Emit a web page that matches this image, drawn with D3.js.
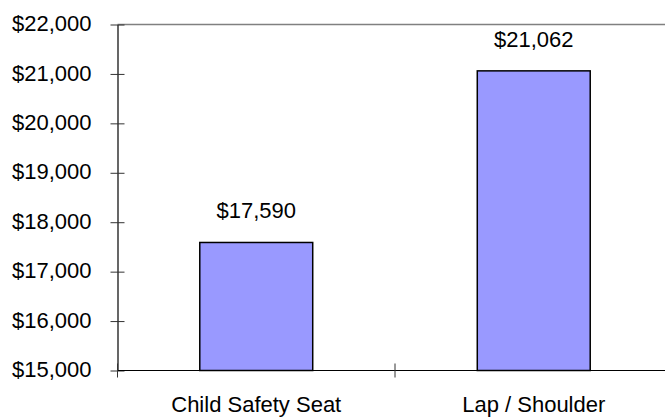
<!DOCTYPE html>
<html>
<head>
<meta charset="utf-8">
<script src="https://cdn.jsdelivr.net/npm/d3@7"></script>
<style>
  html, body { margin: 0; padding: 0; background: #ffffff; }
  svg { display: block; }
  text { font-family: "Liberation Sans", Arial, sans-serif; fill: #000; }
</style>
</head>
<body>
<div id="chart"></div>
<script>
const categories = ["Child Safety Seat", "Lap / Shoulder"];
const values = [17590, 21062];
const yTicks = [15000, 16000, 17000, 18000, 19000, 20000, 21000, 22000];

(function () {
const W = 665, H = 417;
const pLeft = 117.5, pRight = 672.5, pTop = 24.5, pBottom = 370.5;

const svg = d3.select("#chart").append("svg").attr("width", W).attr("height", H);

const x = d3.scaleBand().domain(categories).range([pLeft, pRight])
  .paddingInner(0.593).paddingOuter(0.2965);
const y = d3.scaleLinear().domain([15000, 22000]).range([pBottom, pTop]);
const fmt = v => "$" + d3.format(",")(v);

// top border (gray)
svg.append("line").attr("x1", pLeft).attr("x2", pRight)
  .attr("y1", y(22000)).attr("y2", y(22000))
  .attr("stroke", "#808080").attr("stroke-width", 1.5);

// bars
svg.selectAll("rect.bar").data(values).enter().append("rect")
  .attr("class", "bar")
  .attr("x", (d, i) => x(categories[i]))
  .attr("width", x.bandwidth())
  .attr("y", d => y(d))
  .attr("height", d => y(15000) - y(d))
  .attr("fill", "#9999ff")
  .attr("stroke", "#000").attr("stroke-width", 1.5);

// value labels
svg.selectAll("text.val").data(values).enter().append("text")
  .attr("class", "val")
  .attr("x", (d, i) => x(categories[i]) + x.bandwidth() / 2)
  .attr("y", d => y(d) - 24)
  .attr("text-anchor", "middle")
  .attr("font-size", "22px")
  .text(d => fmt(d));

// y axis
const yAxis = d3.axisLeft(y).tickValues(yTicks).tickFormat(fmt)
  .tickSizeInner(7).tickSizeOuter(0).tickPadding(19);
const gy = svg.append("g").attr("transform", `translate(${pLeft},0)`).call(yAxis);
gy.select(".domain").attr("stroke", "#000").attr("stroke-width", 1.2);
gy.selectAll(".tick line").attr("x2", 7).attr("x1", -7).attr("stroke", "#333");
gy.selectAll(".tick text").attr("font-size", "22px")
  .attr("font-family", "Liberation Sans, Arial, sans-serif")
  .attr("fill", "#000").attr("dy", "0.28em");

// x axis
svg.append("line").attr("x1", pLeft).attr("x2", pRight)
  .attr("y1", pBottom).attr("y2", pBottom)
  .attr("stroke", "#000").attr("stroke-width", 1.2);
const bnd = [pLeft, (x(categories[0]) + x.bandwidth() + x(categories[1])) / 2, pRight];
svg.selectAll("line.xt").data(bnd).enter().append("line")
  .attr("class", "xt")
  .attr("x1", d => d).attr("x2", d => d)
  .attr("y1", pBottom - 7).attr("y2", pBottom + 7)
  .attr("stroke", "#333");

svg.selectAll("text.cat").data(categories).enter().append("text")
  .attr("class", "cat")
  .attr("x", d => x(d) + x.bandwidth() / 2)
  .attr("y", 412)
  .attr("text-anchor", "middle")
  .attr("font-size", "22px")
  .text(d => d);
})();
</script>
</body>
</html>
